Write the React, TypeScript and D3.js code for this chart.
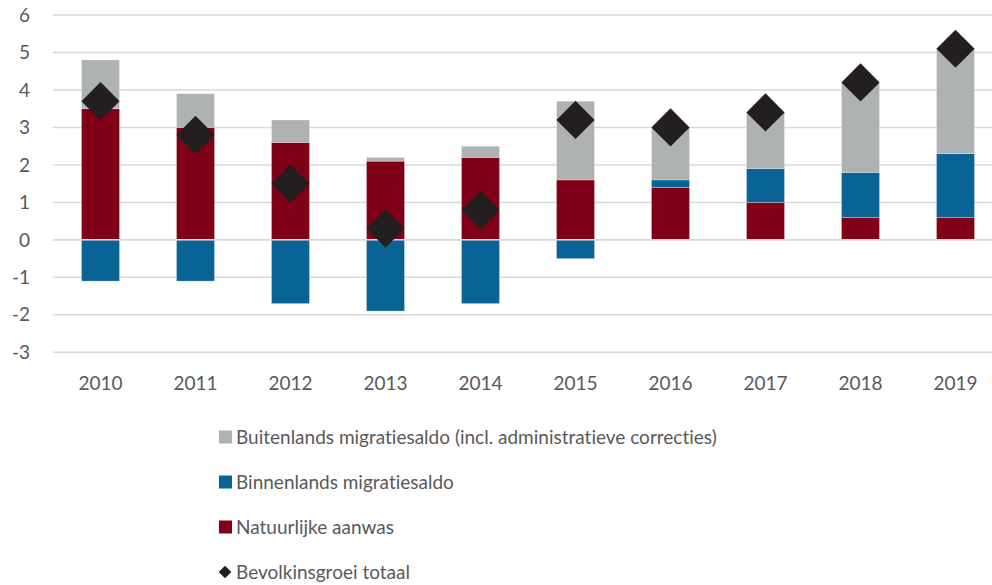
import React from "react";
import * as d3 from "d3";

const years = ["2010", "2011", "2012", "2013", "2014", "2015", "2016", "2017", "2018", "2019"];
const natuurlijk = [3.5, 3.0, 2.6, 2.1, 2.2, 1.6, 1.4, 1.0, 0.6, 0.6];
const binnenlands = [-1.1, -1.1, -1.7, -1.9, -1.7, -0.5, 0.2, 0.9, 1.2, 1.7];
const buitenlands = [1.3, 0.9, 0.6, 0.1, 0.3, 2.1, 1.4, 1.5, 2.4, 2.8];
const totaal = [3.7, 2.8, 1.5, 0.3, 0.8, 3.2, 3.0, 3.4, 4.2, 5.1];
const yTicks = [-3, -2, -1, 0, 1, 2, 3, 4, 5, 6];

const series = [
  { key: "nat", label: "Natuurlijke aanwas", color: "#800018", values: natuurlijk },
  { key: "bin", label: "Binnenlands migratiesaldo", color: "#0a6395", values: binnenlands },
  { key: "bui", label: "Buitenlands migratiesaldo (incl. administratieve correcties)", color: "#afb2b3", values: buitenlands },
];

const W = 992;
const H = 585;
const FONT = "Lato, 'Open Sans', sans-serif";
const TEXT = "#595959";
const textStyle = { fontVariantLigatures: "none", fontFeatureSettings: '"liga" 0, "clig" 0, "dlig" 0' } as any;

const App = () => {
  const x = d3.scaleBand().domain(years).range([53, 1003]).paddingInner(0.6).paddingOuter(0.3);
  const y = d3.scaleLinear().domain([-3, 6]).range([352.3, 15]);

  const rows = years.map((yr, i) => {
    const r: any = { year: yr };
    series.forEach((s) => (r[s.key] = s.values[i]));
    return r;
  });
  const stacked = d3
    .stack()
    .keys(series.map((s) => s.key))
    .offset(d3.stackOffsetDiverging)(rows);

  const diamond = d3.symbol().type(d3.symbolSquare).size(27 * 27);
  const legendDiamond = d3.symbol().type(d3.symbolSquare).size(9 * 9);

  // legend in reversed order, diamond last
  const legendItems = [...series].reverse();

  return (
    <svg width={W} height={H} style={{ position: "absolute", left: 0, top: 0, background: "#fff" }}>
      {/* gridlines */}
      {yTicks.map((t) => (
        <line key={t} x1={53} x2={W} y1={y(t)} y2={y(t)} stroke="#d9d9d9" strokeWidth={1.5} />
      ))}
      {/* y labels */}
      {yTicks.map((t) => (
        <text
          key={"l" + t}
          x={30}
          y={y(t)}
          dy="0.35em"
          textAnchor="end"
          fontFamily={FONT}
          fontSize={19}
          fill={TEXT}
        >
          {t}
        </text>
      ))}
      {/* bars */}
      {stacked.map((layer, li) => (
        <g key={series[li].key} fill={series[li].color}>
          {layer.map((d, i) => (
            <rect
              key={i}
              x={x(years[i])}
              width={x.bandwidth()}
              y={y(Math.max(d[0], d[1]))}
              height={Math.abs(y(d[0]) - y(d[1]))}
              stroke="#ffffff"
              strokeOpacity={0.35}
              strokeWidth={0.75}
            />
          ))}
        </g>
      ))}
      {/* zero line on top */}
      <line x1={53} x2={W} y1={y(0)} y2={y(0)} stroke="#d9d9d9" strokeWidth={1.5} />
      {/* total markers */}
      {totaal.map((v, i) => (
        <path
          key={"d" + i}
          d={diamond() as string}
          transform={`translate(${x(years[i])! + x.bandwidth() / 2},${y(v)}) rotate(45)`}
          fill="#231f20"
        />
      ))}
      {/* x labels */}
      {years.map((yr) => (
        <text
          key={"x" + yr}
          x={x(yr)! + x.bandwidth() / 2}
          y={383}
          dy="0.35em"
          textAnchor="middle"
          fontFamily={FONT}
          fontSize={19}
          fill={TEXT}
        >
          {yr}
        </text>
      ))}
      {/* legend */}
      {legendItems.map((s, i) => (
        <g key={"lg" + s.key} transform={`translate(219,${437 + i * 45})`}>
          <rect x={0} y={-6.5} width={13} height={13} fill={s.color} />
          <text x={17} y={0} dy="0.35em" fontFamily={FONT} fontSize={19} fill={TEXT} style={textStyle}>
            {s.label}
          </text>
        </g>
      ))}
      <g transform={`translate(219,${437 + 3 * 45})`}>
        <path d={legendDiamond() as string} transform="translate(6,0) rotate(45)" fill="#231f20" />
        <text x={17} y={0} dy="0.35em" fontFamily={FONT} fontSize={19} fill={TEXT} style={textStyle}>
          Bevolkinsgroei totaal
        </text>
      </g>
    </svg>
  );
};

export default App;
